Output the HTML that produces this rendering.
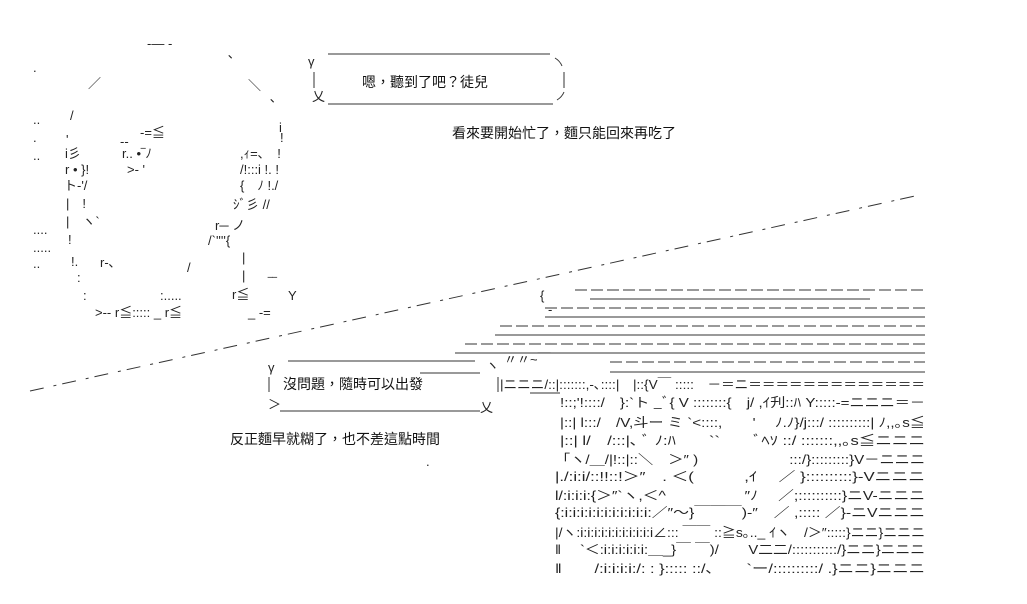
<!DOCTYPE html>
<html><head><meta charset="utf-8"><style>
html,body{margin:0;padding:0;background:#fff;width:1027px;height:604px;overflow:hidden}
svg{display:block}
text{font-family:"Liberation Sans","Noto Sans CJK TC","WenQuanYi Zen Hei",sans-serif;fill:#222;font-size:13px}
.c{font-size:14px;fill:#111}
</style></head><body>
<svg width="1027" height="604" viewBox="0 0 1027 604" xmlns="http://www.w3.org/2000/svg">
<g stroke="#333" stroke-width="1" fill="none">
<!-- bubble 1 -->
<line x1="328" y1="54" x2="550" y2="54"/>
<line x1="328" y1="104" x2="553" y2="104"/>
<path d="M555 58 q5 3 7 8"/><path d="M557 100 q5-3 7-8"/>
<line x1="564" y1="72" x2="564" y2="88"/>
<line x1="314" y1="72" x2="314" y2="88"/>
<!-- bubble 2 -->
<line x1="288" y1="361" x2="475" y2="361"/>
<line x1="280" y1="411" x2="480" y2="411"/>
<line x1="269" y1="377" x2="269" y2="392"/>
<line x1="498" y1="377" x2="498" y2="392"/>
<!-- dash rows -->
<g stroke-dasharray="12,4">
<line x1="575" y1="290" x2="925" y2="290"/>
<line x1="545" y1="308" x2="925" y2="308"/>
<line x1="500" y1="326" x2="925" y2="326"/>
<line x1="465" y1="344" x2="925" y2="344"/>
<line x1="610" y1="362" x2="925" y2="362"/>
</g>
<line x1="590" y1="299" x2="870" y2="299"/>
<line x1="545" y1="317" x2="925" y2="317"/>
<line x1="495" y1="335" x2="925" y2="335"/>
<line x1="455" y1="353" x2="925" y2="353"/>
<line x1="610" y1="372" x2="925" y2="372"/>
<line x1="420" y1="373" x2="480" y2="373"/>
<line x1="530" y1="393" x2="560" y2="393"/>
<!-- diagonal -->
<line x1="30" y1="391" x2="915" y2="196" stroke-dasharray="14,10,3,6"/>
</g>
<!-- speech text -->
<text class="c" x="362" y="87">嗯，聽到了吧？徒兒</text>
<text class="c" x="452" y="138">看來要開始忙了，麵只能回來再吃了</text>
<text class="c" x="283" y="389">沒問題，隨時可以出發</text>
<text class="c" x="230" y="444">反正麵早就糊了，也不差這點時間</text>
<text x="308" y="66">γ</text><text x="312" y="101">乂</text>
<text x="268" y="372">γ</text><text x="268" y="409">＞</text><text x="480" y="412">乂</text>
<text x="486" y="370">ヽ</text><text x="504" y="364">〃〃~￣</text>
<text x="426" y="466">.</text>
<!-- face art -->
<text x="147" y="48">‐— -</text><text x="228" y="58">､</text>
<text x="33" y="72">.</text><text x="88" y="88" font-size="18">／</text><text x="248" y="90" font-size="18">＼</text><text x="270" y="102">､</text>
<text x="70" y="120" font-size="16">/</text>
<text x="33" y="124">..</text><text x="33" y="142">.</text><text x="33" y="160">..</text>
<text x="140" y="137">-=≦</text><text x="120" y="146">--</text><text x="122" y="158">r.. •‾ﾉ</text><text x="127" y="174">&gt;‐ '</text>
<text x="66" y="144">'</text><text x="65" y="158">i彡</text><text x="65" y="174">r • }!</text><text x="64" y="190">ト-'/</text><text x="66" y="208">|　!</text><text x="66" y="226">|　ヽ`</text><text x="68" y="244">!</text><text x="71" y="266">!.</text><text x="77" y="282">:</text><text x="83" y="300">:</text>
<text x="95" y="317">&gt;-- r≦::::: _ r≦</text>
<text x="279" y="132">i</text><text x="280" y="142">!</text><text x="240" y="158">,ｨ=､　!</text><text x="240" y="174">/!:::i !. !</text><text x="240" y="190">{　ﾉ !./</text><text x="233" y="209">ｼﾞ彡 //</text><text x="215" y="230">r─ ノ</text><text x="208" y="245">/`''''{</text><text x="242" y="262">|</text><text x="187" y="272">/</text><text x="242" y="280">|</text><text x="160" y="300">:.....</text><text x="232" y="299">r≦</text><text x="268" y="287">‾‾</text><text x="288" y="300">Y</text><text x="248" y="317">_ -=</text>
<text x="33" y="234">....</text><text x="33" y="252">.....</text><text x="33" y="268">..</text><text x="100" y="267">r‐､</text>
<text x="540" y="300">{</text><text x="548" y="314">-</text>
<!-- lower right art -->
<g>
<text x="500" y="389" textLength="425" lengthAdjust="spacingAndGlyphs">|ニニニ/::|:::::::,-､::::|　|::{V￣ :::::　－＝ニ＝＝＝＝＝＝＝＝＝＝＝＝＝</text>
<text x="560" y="407" textLength="365" lengthAdjust="spacingAndGlyphs">!::;'!::::/　}:`ト _ﾞ{ V ::::::::{　j/ ,ｲ刋::ﾊ Y:::::-=ニニニ＝－</text>
<text x="560" y="427" textLength="365" lengthAdjust="spacingAndGlyphs">|::| l:::/　/V,斗ー ミ `&lt;::::,　　' 　ﾉ.ﾉ}/j:::/ ::::::::::| ﾉ,,｡s≦</text>
<text x="560" y="445" textLength="365" lengthAdjust="spacingAndGlyphs">|::| l/　/:::|､ ﾞ ﾉ:ﾊ　　``　　ﾞﾍｿ ::/ :::::::,,｡s≦ニニニ</text>
<text x="555" y="464" textLength="370" lengthAdjust="spacingAndGlyphs">「ヽ/＿/|!::|::＼　＞″ )　　　　　　:::/}:::::::::}V－ニニニ</text>
<text x="555" y="481" textLength="370" lengthAdjust="spacingAndGlyphs">|./:i:i/::!!::!＞″　. ＜(　　　,ｲ　 ／ }::::::::::}-Vニニニ</text>
<text x="555" y="500" textLength="370" lengthAdjust="spacingAndGlyphs">l/:i:i:i:{＞″`ヽ,＜^　　　　　″ﾉ　 ／;::::::::::}ニV-ニニニ</text>
<text x="555" y="517" textLength="370" lengthAdjust="spacingAndGlyphs">{:i:i:i:i:i:i:i:i:i:i:i:／″～}￣￣￣)-″　／ ,::::: ／}-ニVニニニ</text>
<text x="555" y="537" textLength="370" lengthAdjust="spacingAndGlyphs">|/ヽ:i:i:i:i:i:i:i:i:i:i:i∠::: ￣￣ ::≧s｡.._ ｲヽ　/＞″:::::}ニニ}ニニニ</text>
<text x="555" y="554" textLength="370" lengthAdjust="spacingAndGlyphs">‖　 `＜:i:i:i:i:i:i:＿_}￣ ￣)/　　V二二/:::::::::::/}ニニ}ニニニ</text>
<text x="555" y="573" textLength="370" lengthAdjust="spacingAndGlyphs">‖　　/:i:i:i:i:/: : }::::: ::/､　　`ー/::::::::::/ .}ニニ}ニニニ</text>
</g>
</svg>
</body></html>
